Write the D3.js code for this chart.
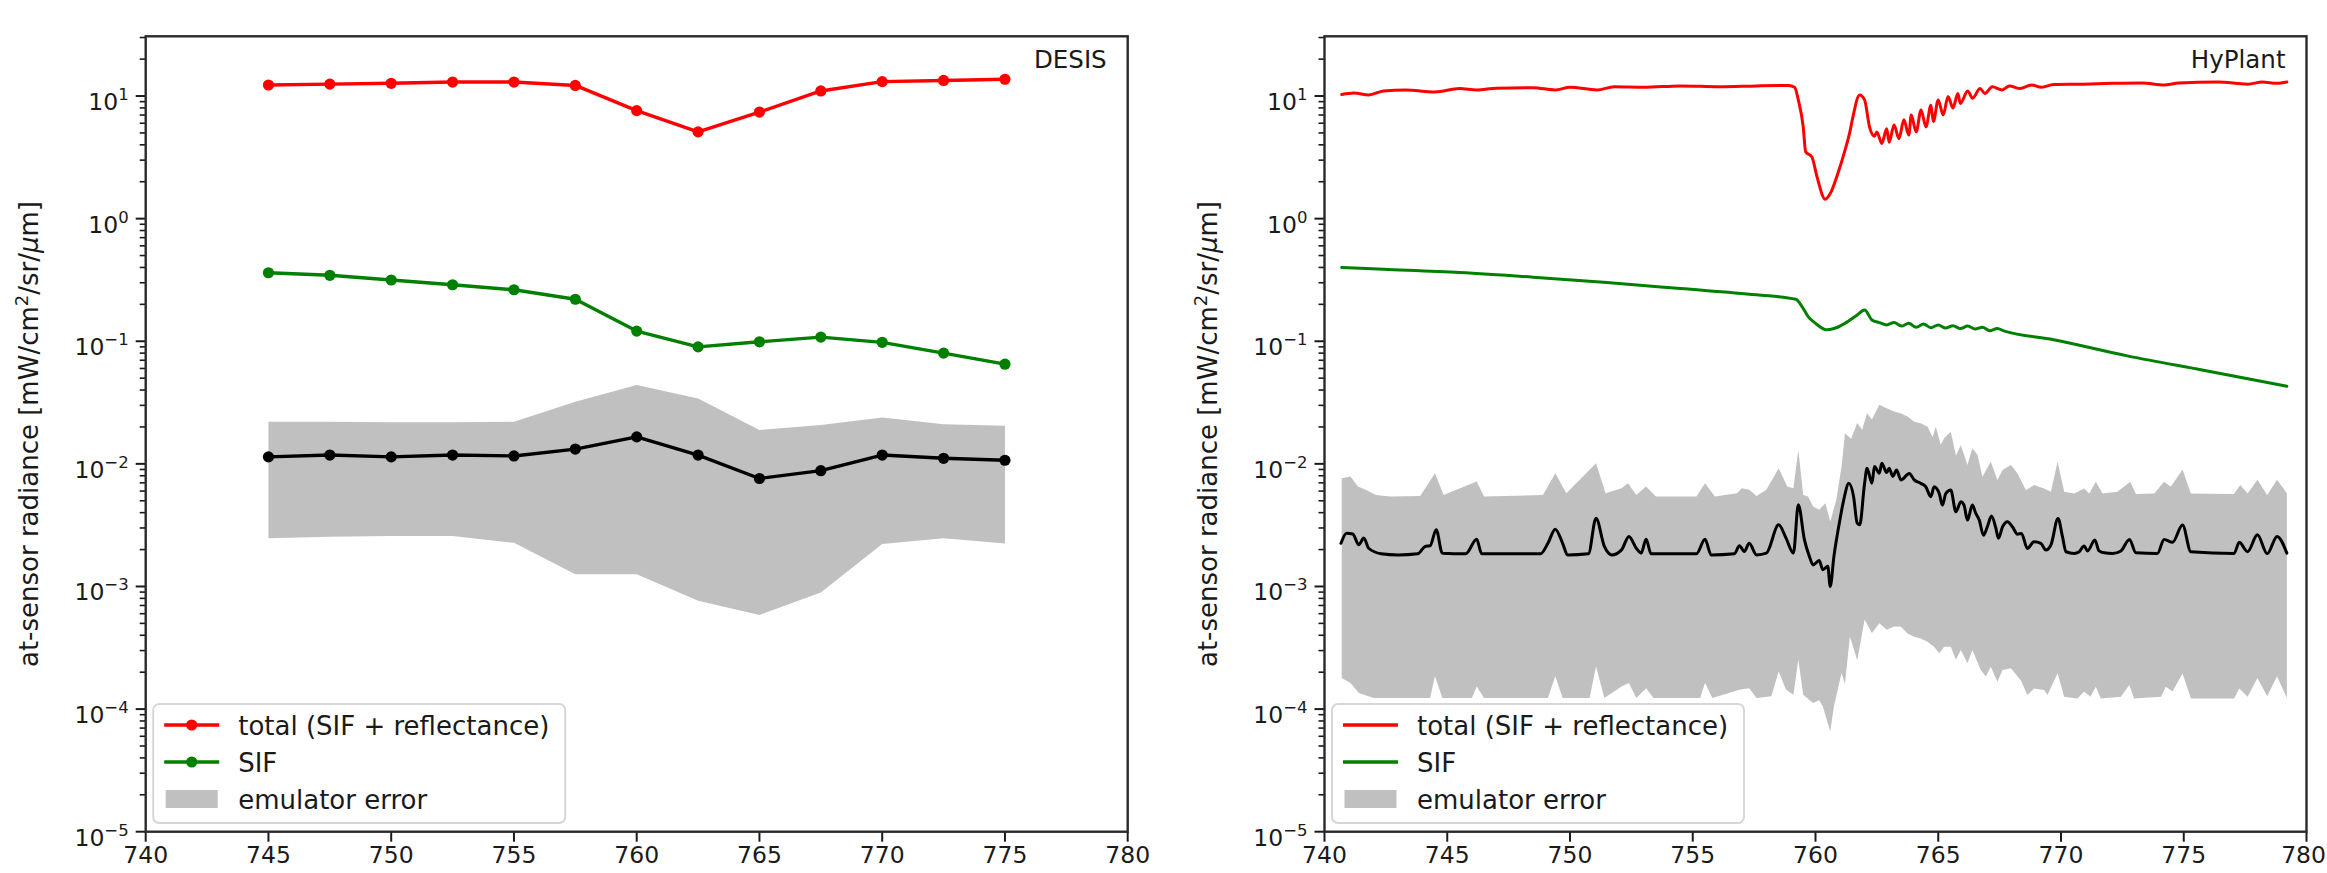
<!DOCTYPE html>
<html>
<head>
<meta charset="utf-8">
<script src="https://cdn.jsdelivr.net/npm/d3@7"></script>
<style>
  body { margin: 0; background: #fff; }
  svg text { font-family: "DejaVu Sans", sans-serif; fill: #1a1a1a; }
</style>
</head>
<body>
<svg id="fig" width="2327" height="873"></svg>
<script>
// ---------------- DESIS (band-integrated) ----------------
const desisWl    = [745, 747.5, 750, 752.5, 755, 757.5, 760, 762.5, 765, 767.5, 770, 772.5, 775];
const desisTotal = [12.3, 12.5, 12.7, 13.0, 13.0, 12.2, 7.6, 5.1, 7.4, 11.0, 13.1, 13.4, 13.7];
const desisSif   = [0.362, 0.345, 0.316, 0.289, 0.263, 0.220, 0.121, 0.090, 0.099, 0.108, 0.098, 0.080, 0.065];
const desisErr   = [0.0114, 0.0118, 0.0114, 0.0118, 0.0116, 0.0132, 0.0166, 0.0118, 0.0076, 0.0088, 0.0118, 0.0111, 0.0107];
const desisErrHi = [0.0221, 0.0221, 0.0218, 0.0218, 0.0221, 0.0321, 0.0440, 0.0342, 0.0189, 0.0207, 0.0239, 0.0210, 0.0205];
const desisErrLo = [0.00247, 0.00254, 0.00258, 0.00258, 0.00227, 0.00126, 0.00126, 0.000764, 0.000585, 0.000895, 0.00222, 0.00247, 0.00224];

// ---------------- HyPlant (high resolution) ----------------
const hyTotalWl = [740.7,741.2,741.8,742.4,743.3,744.5,745.5,746.2,747.0,748.5,749.4,750.0,751.1,751.8,753.0,754.5,756.1,757.6,758.9,759.15,
  759.3,759.5,759.6,759.85,760.06,760.4,760.6,760.9,761.2,761.4,761.5,761.8,762.0,762.2,762.4,762.5,762.7,762.9,763.0,763.2,
  763.4,763.6,763.8,763.9,764.1,764.3,764.5,764.7,764.8,765.0,765.2,765.4,765.6,765.8,765.9,766.2,766.4,766.7,766.9,767.2,
  767.6,767.9,768.3,768.8,769.2,769.7,770.9,772.1,773.3,774.2,774.8,776.4,777.6,778.2,778.8,779.2];
const hyTotal = [10.3,10.6,10.2,11.0,11.2,10.8,11.5,11.2,11.6,11.7,11.2,11.8,11.2,11.9,11.8,12.1,11.9,12.1,12.2,11.8,
  9.3,5.6,3.5,3.2,2.2,1.44,1.6,2.3,3.6,5.1,6.4,10.2,9.3,5.6,4.7,5.1,4.1,5.4,4.2,5.8,
  4.5,6.4,4.8,7.0,5.1,7.7,5.6,8.4,6.2,9.3,7.0,9.9,8.0,10.5,8.7,11.0,9.6,11.5,10.5,11.9,
  11.2,12.1,11.5,12.3,11.8,12.4,12.5,12.7,12.8,12.3,12.8,13.0,12.5,13.0,12.7,13.0];

const hySifWl = [740.7,742.4,745.5,748.5,751.5,754.5,757.6,759.2,759.45,759.7,760.0,760.45,760.75,761.2,761.7,762.0,762.3,762.6,762.9,763.2,
  763.5,763.8,764.1,764.4,764.7,765.0,765.3,765.6,765.9,766.2,766.5,766.8,767.1,767.4,767.7,769.7,772.7,775.8,779.2];
const hySif = [0.399,0.386,0.363,0.333,0.301,0.269,0.239,0.220,0.192,0.159,0.140,0.124,0.127,0.140,0.164,0.180,0.149,0.142,0.136,0.142,
  0.133,0.140,0.130,0.138,0.129,0.136,0.128,0.134,0.127,0.133,0.126,0.130,0.122,0.127,0.121,0.103,0.076,0.058,0.043];

const hyErrWl = [740.67,740.9,741.15,741.4,741.6,741.8,742.3,743.0,743.8,744.1,744.3,744.55,744.8,745.75,746.2,746.4,748.8,749.1,749.4,749.7,
  749.9,750.75,751.06,751.4,751.7,752.1,752.4,752.7,752.9,753.1,753.3,755.15,755.5,755.75,756.7,756.9,757.1,757.3,757.6,758.0,
  758.5,758.8,759.1,759.3,759.55,759.75,759.9,760.15,760.3,760.5,760.6,760.75,760.97,761.15,761.36,761.55,761.7,761.8,762.0,762.1,
  762.3,762.4,762.6,762.7,762.9,763.0,763.15,763.3,763.48,763.82,764.02,764.29,764.49,764.70,764.83,765.04,765.17,765.31,765.51,765.72,
  765.92,766.05,766.19,766.39,766.53,766.67,766.84,767.0,767.17,767.35,767.45,767.62,767.82,768.02,768.23,768.39,768.63,768.9,769.18,769.38,
  769.59,769.88,770.06,770.2,770.54,770.74,770.94,771.08,771.38,771.55,771.76,772.1,772.44,772.79,773.05,773.93,774.2,774.54,774.95,775.29,
  777.05,777.26,777.6,778.0,778.4,778.8,779.2];
const hyErr = [0.00225,0.00272,0.00268,0.00219,0.00248,0.00205,0.00185,0.00181,0.00185,0.00212,0.00215,0.0029,0.00187,0.00185,0.00243,0.00185,0.00185,0.00225,0.00293,0.00225,
  0.00181,0.00185,0.0036,0.00212,0.00181,0.00199,0.00256,0.00205,0.00187,0.00243,0.00185,0.00185,0.00243,0.00181,0.00185,0.00215,0.00193,0.00225,0.00181,0.00187,
  0.00318,0.00248,0.00187,0.00464,0.0024,0.00176,0.0015,0.00163,0.00137,0.00146,0.001,0.00176,0.00328,0.00509,0.00695,0.00542,0.00328,0.00318,0.00695,0.00922,
  0.00695,0.00951,0.0084,0.0101,0.0085,0.0092,0.0079,0.0089,0.0074,0.00836,0.00741,0.00693,0.00651,0.0054,0.00651,0.00574,0.00461,0.00574,0.00611,0.00407,
  0.00491,0.00461,0.00348,0.00461,0.00394,0.00348,0.00262,0.00307,0.00375,0.00297,0.00247,0.00307,0.00338,0.00307,0.00267,0.00271,0.00204,0.00232,0.00225,0.00198,
  0.00218,0.00359,0.00255,0.00192,0.00186,0.00192,0.00214,0.00195,0.00239,0.00195,0.00188,0.00186,0.00195,0.00242,0.00188,0.00186,0.00242,0.00229,0.00317,0.00192,
  0.00186,0.00229,0.00192,0.00264,0.00185,0.00256,0.00187];

// upper edge of the emulator error envelope
const hyErrHiWl = [740.7,741.06,741.36,741.67,742.1,742.7,743.9,744.5,744.85,746.2,746.5,748.9,749.4,749.85,751.06,751.45,752.1,752.36,752.7,753.1,
  753.5,755.15,755.5,755.9,756.8,757.0,757.3,757.6,758.0,758.5,758.85,759.1,759.3,759.5,759.7,759.9,760.15,760.4,760.6,760.85,
  761.06,761.2,761.45,761.7,761.9,762.1,762.3,762.6,762.9,763.2,763.48,763.75,764.02,764.29,764.56,764.77,764.9,765.1,765.24,765.51,
  765.72,765.92,766.19,766.39,766.6,766.8,767.14,767.41,767.62,767.96,768.23,768.57,768.9,769.31,769.59,769.86,770.13,770.54,770.94,771.15,
  771.42,771.69,772.3,772.82,773.05,773.8,774.2,774.47,774.95,775.29,777.05,777.3,777.6,778.0,778.4,778.8,779.2];
const hyErrHi = [0.00764,0.00789,0.00653,0.00614,0.00558,0.00542,0.00548,0.0084,0.00558,0.00718,0.00542,0.00558,0.0084,0.00577,0.0101,0.00577,0.00634,0.00695,0.00558,0.00653,
  0.00542,0.00542,0.00695,0.00542,0.00577,0.00634,0.00614,0.00548,0.00614,0.00922,0.00653,0.00634,0.0130,0.00558,0.00542,0.00449,0.00422,0.00478,0.00339,0.00509,
  0.00951,0.0178,0.0160,0.0215,0.0190,0.0259,0.0230,0.0303,0.0284,0.0267,0.0258,0.0243,0.0221,0.0214,0.0201,0.0166,0.0201,0.0143,0.0162,0.0183,
  0.0117,0.0142,0.00977,0.0134,0.0118,0.00785,0.0104,0.00738,0.0089,0.00977,0.00836,0.0061,0.00672,0.00631,0.00593,0.0104,0.00593,0.00574,0.00631,0.00574,
  0.00714,0.00574,0.00593,0.00714,0.00567,0.00574,0.00714,0.00651,0.0090,0.00574,0.00567,0.00672,0.00574,0.00741,0.00558,0.00741,0.00577];

// lower edge of the emulator error envelope
const hyErrLoWl = [740.7,741.06,741.4,742.0,744.3,744.5,744.8,746.0,746.2,746.5,749.1,749.4,749.7,750.8,751.06,751.4,752.1,752.4,752.7,753.1,
  753.4,755.3,755.5,755.8,756.9,757.3,757.6,758.2,758.5,758.8,759.1,759.3,759.5,759.9,760.15,760.3,760.6,760.75,761.06,761.2,
  761.4,761.7,762.0,762.3,762.6,762.9,763.2,763.48,763.75,764.02,764.29,764.56,764.83,765.04,765.24,765.51,765.72,765.92,766.19,766.39,
  766.73,766.94,767.14,767.41,767.62,767.96,768.36,768.63,768.9,769.31,769.45,769.86,770.13,770.67,770.94,771.2,771.42,771.62,772.44,772.78,
  772.98,774.07,774.27,774.54,774.95,775.29,777.05,777.26,777.6,778.0,778.4,778.8,779.2];
const hyErrLo = [0.000179,0.000163,0.000135,0.000123,0.000123,0.000185,0.000123,0.000123,0.000153,0.000123,0.000123,0.000185,0.000123,0.000123,0.000223,0.000123,0.000153,0.000163,0.000123,0.000148,
  0.000123,0.000123,0.000163,0.000123,0.000144,0.000148,0.000123,0.000127,0.000203,0.000144,0.000131,0.000252,0.000131,0.000112,0.000118,0.000105,0.0000658,0.000105,0.000197,0.00016,
  0.000391,0.00025,0.000535,0.000417,0.000502,0.000443,0.000472,0.00047,0.000414,0.000389,0.000377,0.000354,0.000322,0.000285,0.000322,0.000322,0.000252,0.000303,0.000236,0.000303,
  0.000208,0.000184,0.000221,0.000167,0.000208,0.000215,0.000172,0.00013,0.000147,0.000143,0.00013,0.000196,0.000126,0.000122,0.000139,0.000126,0.000152,0.000122,0.000126,0.000157,
  0.000122,0.000126,0.000152,0.000139,0.000195,0.000122,0.000122,0.000147,0.000126,0.000179,0.000127,0.000185,0.000123];

// ---------------- axes, ticks, labels ----------------
const xDomain = [740, 780];
const xTicks = [740, 745, 750, 755, 760, 765, 770, 775, 780];
const yDomain = [1e-5, 30.7];
const yTickExponents = [-5, -4, -3, -2, -1, 0, 1];
const panelTitles = ["DESIS", "HyPlant"];
const legendLabels = ["total (SIF + reflectance)", "SIF", "emulator error"];
const colors = { total: "#ff0000", sif: "#008000", err: "#000000", band: "#c0c0c0" };

const W = 2327;
const svg = d3.select("#fig");
const axTop = 36.3, axBottom = 831.7;
const panelBoxes = [{ x0: 145.7, x1: 1127.7 }, { x0: 1324.5, x1: 2306.5 }];

function zip(xs, ys) { return xs.map((x, i) => [x, ys[i]]); }

function drawPanel(idx, spec) {
  const box = panelBoxes[idx];
  const x = d3.scaleLinear().domain(xDomain).range([box.x0, box.x1]);
  const y = d3.scaleLog().domain(yDomain).range([axBottom, axTop]);
  const g = svg.append("g");

  const clipId = "clip" + idx;
  svg.append("clipPath").attr("id", clipId)
    .append("rect").attr("x", box.x0).attr("y", axTop)
    .attr("width", box.x1 - box.x0).attr("height", axBottom - axTop);
  const plot = g.append("g").attr("clip-path", `url(#${clipId})`);

  // error envelope
  const hiPts = zip(spec.bandHiWl, spec.bandHi);
  const loPts = zip(spec.bandLoWl, spec.bandLo).reverse();
  const poly = hiPts.concat(loPts).map(d => [x(d[0]), y(d[1])]);
  plot.append("path").attr("d", "M" + poly.map(p => p.join(",")).join("L") + "Z")
    .attr("fill", colors.band).attr("stroke", "none");

  const line = d3.line().x(d => x(d[0])).y(d => y(d[1]))
    .curve(spec.markers ? d3.curveLinear : d3.curveMonotoneX);
  const series = [
    { pts: zip(spec.errWl, spec.err), color: colors.err },
    { pts: zip(spec.sifWl, spec.sif), color: colors.sif },
    { pts: zip(spec.totalWl, spec.total), color: colors.total }
  ];
  series.forEach(s => {
    plot.append("path").attr("d", line(s.pts)).attr("fill", "none")
      .attr("stroke", s.color).attr("stroke-width", spec.markers ? 3.4 : 3)
      .attr("stroke-linejoin", "round").attr("stroke-linecap", "round");
    if (spec.markers) {
      plot.selectAll(null).data(s.pts).enter().append("circle")
        .attr("cx", d => x(d[0])).attr("cy", d => y(d[1])).attr("r", 5.6)
        .attr("fill", s.color);
    }
  });

  // x ticks
  const ax = g.append("g").attr("stroke", "#1a1a1a");
  xTicks.forEach(t => {
    ax.append("line").attr("x1", x(t)).attr("x2", x(t))
      .attr("y1", axBottom).attr("y2", axBottom + 10).attr("stroke-width", 2);
    const atEdge = x(t) + 23 > W;
    g.append("text").attr("x", atEdge ? W - 1 : x(t)).attr("y", axBottom + 31)
      .attr("text-anchor", atEdge ? "end" : "middle").attr("font-size", 23.5).text(String(t));
  });

  // y ticks: decades plus minor ticks
  yTickExponents.forEach(e => {
    const v = Math.pow(10, e);
    ax.append("line").attr("x1", box.x0 - 10).attr("x2", box.x0)
      .attr("y1", y(v)).attr("y2", y(v)).attr("stroke-width", 2);
    const t = g.append("text").attr("x", box.x0 - 17).attr("y", y(v) + 14)
      .attr("text-anchor", "end").attr("font-size", 23.5);
    t.append("tspan").text("10");
    t.append("tspan").attr("dy", -10).attr("font-size", 16.5)
      .text(e < 0 ? "\u2212" + Math.abs(e) : String(e));
    for (let k = 2; k <= 9; k++) {
      const mv = k * v;
      if (mv > yDomain[1]) break;
      ax.append("line").attr("x1", box.x0 - 6).attr("x2", box.x0)
        .attr("y1", y(mv)).attr("y2", y(mv)).attr("stroke-width", 1.6);
    }
  });

  // frame
  g.append("rect").attr("x", box.x0).attr("y", axTop)
    .attr("width", box.x1 - box.x0).attr("height", axBottom - axTop)
    .attr("fill", "none").attr("stroke", "#2a2a2a").attr("stroke-width", 2.4);

  // axis label
  const yl = g.append("text")
    .attr("transform", `translate(${box.x0 - 108},${(axTop + axBottom) / 2}) rotate(-90)`)
    .attr("text-anchor", "middle").attr("font-size", 26);
  yl.append("tspan").text("at-sensor radiance [mW/cm");
  yl.append("tspan").attr("dy", -10).attr("font-size", 18).text("2");
  yl.append("tspan").attr("dy", 10).text("/sr/");
  yl.append("tspan").attr("font-style", "italic").text("\u03bc");
  yl.append("tspan").text("m]");

  // panel title
  g.append("text").attr("x", box.x1 - 21).attr("y", 68)
    .attr("text-anchor", "end").attr("font-size", 24.5).text(spec.title);

  // legend
  const lg = g.append("g").attr("transform", `translate(${box.x0 + 7.5},704)`);
  lg.append("rect").attr("width", 412).attr("height", 119).attr("rx", 6)
    .attr("fill", "#ffffff").attr("fill-opacity", 0.85)
    .attr("stroke", "#d6d6d6").attr("stroke-width", 2);
  const rows = [21, 58, 95];
  const legendColors = [colors.total, colors.sif];
  legendColors.forEach((c, i) => {
    lg.append("line").attr("x1", 11).attr("x2", 66).attr("y1", rows[i]).attr("y2", rows[i])
      .attr("stroke", c).attr("stroke-width", 3.4);
    if (spec.markers) {
      lg.append("circle").attr("cx", 38.5).attr("cy", rows[i]).attr("r", 5.6).attr("fill", c);
    }
  });
  lg.append("rect").attr("x", 12.5).attr("y", rows[2] - 9).attr("width", 52).attr("height", 18)
    .attr("fill", colors.band);
  legendLabels.forEach((lab, i) => {
    lg.append("text").attr("x", 85).attr("y", rows[i] + 9.5)
      .attr("font-size", 26).text(lab);
  });
}

drawPanel(0, {
  title: panelTitles[0], markers: true,
  totalWl: desisWl, total: desisTotal,
  sifWl: desisWl, sif: desisSif,
  errWl: desisWl, err: desisErr,
  bandHiWl: desisWl, bandHi: desisErrHi,
  bandLoWl: desisWl, bandLo: desisErrLo
});
drawPanel(1, {
  title: panelTitles[1], markers: false,
  totalWl: hyTotalWl, total: hyTotal,
  sifWl: hySifWl, sif: hySif,
  errWl: hyErrWl, err: hyErr,
  bandHiWl: hyErrHiWl, bandHi: hyErrHi,
  bandLoWl: hyErrLoWl, bandLo: hyErrLo
});
</script>
</body>
</html>
